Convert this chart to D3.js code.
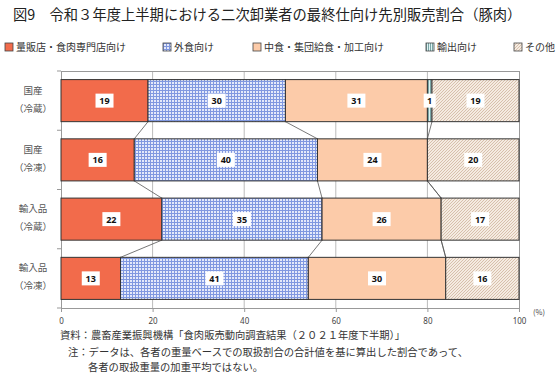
<!DOCTYPE html>
<html><head><meta charset="utf-8">
<script src="https://cdn.jsdelivr.net/npm/d3@7"></script>
<style>
body{margin:0;background:#fff;}
svg{display:block;font-family:"Noto Sans CJK JP","Noto Sans",sans-serif;}
</style></head><body>
<svg id="c" width="558" height="383"></svg>
<script>
const categories = [["国産","（冷蔵）"],["国産","（冷凍）"],["輸入品","（冷蔵）"],["輸入品","（冷凍）"]];
const seriesNames = ["量販店・食肉専門店向け","外食向け","中食・集団給食・加工向け","輸出向け","その他"];
const massRetail = [19,16,22,13];
const foodService = [30,40,35,41];
const readyMeal = [31,24,26,30];
const exportVals = [1,0,0,0];
const other = [19,20,17,16];
const xTicks = [0,20,40,60,80,100];

const svg = d3.select("#c");
const defs = svg.append("defs");
// patterns
const pb = defs.append("pattern").attr("id","pBlue").attr("patternUnits","userSpaceOnUse").attr("width",3).attr("height",3);
pb.append("rect").attr("width",3).attr("height",3).attr("fill","#e4e9fa");
pb.append("rect").attr("width",3).attr("height",1).attr("fill","#8098e0");
pb.append("rect").attr("width",1).attr("height",3).attr("fill","#8098e0");
const pc = defs.append("pattern").attr("id","pCyan").attr("patternUnits","userSpaceOnUse").attr("width",2).attr("height",2);
pc.append("rect").attr("width",2).attr("height",2).attr("fill","#dff3f3");
pc.append("rect").attr("width",1).attr("height",2).attr("fill","#7aa6a6");
const po = defs.append("pattern").attr("id","pOther").attr("patternUnits","userSpaceOnUse").attr("width",3).attr("height",3);
po.append("rect").attr("width",3).attr("height",3).attr("fill","#f5ebe1");
po.append("path").attr("d","M0,3 L3,0 M-1,1 L1,-1 M2,4 L4,2").attr("stroke","#d4bba6").attr("stroke-width",0.9);

const fills = ["#f26b4b","url(#pBlue)","#fccba9","url(#pCyan)","url(#pOther)"];
const legendFills = ["#f26b4b","url(#pBlue)","#fccba9","url(#pCyan)","url(#pOther)"];

// title
svg.append("text").attr("x",13).attr("y",20).attr("font-size",14.3).attr("fill","#222")
  .text("図9　令和３年度上半期における二次卸業者の最終仕向け先別販売割合（豚肉）");

// legend
const legX = [5,163,253,426,514];
seriesNames.forEach((n,i)=>{
  const g = svg.append("g").attr("transform",`translate(${legX[i]},43)`);
  g.append("rect").attr("x",0).attr("y",0).attr("width",8).attr("height",8).attr("fill",legendFills[i]).attr("stroke","#444").attr("stroke-width",0.8);
  g.append("text").attr("x",11).attr("y",8).attr("font-size",10).attr("fill","#333").text(n);
});

const L=61, R=519, T=71, B=308;
const x = d3.scaleLinear().domain([0,100]).range([L,R]);
const y = d3.scaleBand().domain(d3.range(categories.length)).range([T,B]).paddingInner(0.29).paddingOuter(0.145);

// gridlines
svg.append("g").selectAll("line").data(xTicks.filter(t=>t>0&&t<100)).join("line")
  .attr("x1",d=>x(d)).attr("x2",d=>x(d)).attr("y1",T).attr("y2",B).attr("stroke","#bbb").attr("stroke-width",1);
// plot border top & right
svg.append("line").attr("x1",L).attr("x2",R).attr("y1",T+0.5).attr("y2",T+0.5).attr("stroke","#999");
svg.append("line").attr("x1",R+0.5).attr("x2",R+0.5).attr("y1",T).attr("y2",B).attr("stroke","#999");

// axes
const xAxis = d3.axisBottom(x).tickValues(xTicks).tickSize(4).tickSizeOuter(0);
const gx = svg.append("g").attr("transform",`translate(0,${B})`).call(xAxis);
gx.select(".domain").attr("stroke","#999");
gx.selectAll(".tick line").attr("stroke","#999");
gx.selectAll("text").attr("font-size",8).attr("fill","#444").attr("dy","1.1em").attr("font-family","Noto Sans, sans-serif");
// left axis
svg.append("line").attr("x1",L+0.5).attr("x2",L+0.5).attr("y1",T).attr("y2",B).attr("stroke","#999");
const bounds = d3.range(categories.length+1).map(i=>T + i*(B-T)/categories.length);
svg.append("g").selectAll("line").data(bounds).join("line")
  .attr("x1",L-4).attr("x2",L).attr("y1",d=>d).attr("y2",d=>d).attr("stroke","#999");

// category labels
categories.forEach((c,i)=>{
  const cy = y(i)+y.bandwidth()/2;
  svg.append("text").attr("x",33).attr("y",cy-7).attr("text-anchor","middle").attr("font-size",9.5).attr("fill","#555").text(c[0]);
  svg.append("text").attr("x",33).attr("y",cy+11).attr("text-anchor","middle").attr("font-size",9.5).attr("fill","#555").text(c[1]);
});

const seriesData = [massRetail,foodService,readyMeal,exportVals,other];
const rows = categories.map((c,i)=>{
  let acc=0;
  return seriesData.map((s,k)=>{const x0=acc; acc+=s[i]; return {k,i,x0,x1:acc,v:s[i]};});
});

// series lines
for(let i=0;i<rows.length-1;i++){
  for(let k=0;k<seriesData.length-1;k++){
    svg.append("line").attr("x1",x(rows[i][k].x1)).attr("y1",y(i)+y.bandwidth())
      .attr("x2",x(rows[i+1][k].x1)).attr("y2",y(i+1)).attr("stroke","#555").attr("stroke-width",0.8);
  }
}

// bars
rows.forEach(r=>{
  r.forEach(s=>{
    if(s.v<=0) return;
    svg.append("rect").attr("x",x(s.x0)).attr("y",y(s.i)).attr("width",x(s.x1)-x(s.x0)).attr("height",y.bandwidth())
      .attr("fill",fills[s.k]).attr("stroke","#333").attr("stroke-width",1);
  });
});
// labels
rows.forEach(r=>{
  r.forEach(s=>{
    if(s.v<=0) return;
    const cx=(x(s.x0)+x(s.x1))/2, cy=y(s.i)+y.bandwidth()/2;
    const txt=String(s.v);
    const w = txt.length*6+6;
    svg.append("rect").attr("x",cx-w/2).attr("y",cy-7).attr("width",w).attr("height",14).attr("fill","#fff");
    svg.append("text").attr("x",cx).attr("y",cy+3.5).attr("text-anchor","middle").attr("font-size",9).attr("font-weight","bold")
      .attr("fill","#111").attr("font-family","Noto Sans, sans-serif").text(txt);
  });
});

svg.append("text").attr("x",533).attr("y",315).attr("font-size",7.5).attr("fill","#444").text("(%)");

// footnotes
const fs=10.3;
svg.append("text").attr("x",60).attr("y",339).attr("font-size",fs).attr("fill","#333").text("資料：農畜産業振興機構「食肉販売動向調査結果（２０２１年度下半期）」");
svg.append("text").attr("x",68).attr("y",356).attr("font-size",fs).attr("fill","#333").text("注：データは、各者の重量ベースでの取扱割合の合計値を基に算出した割合であって、");
svg.append("text").attr("x",88).attr("y",371).attr("font-size",fs).attr("fill","#333").text("各者の取扱重量の加重平均ではない。");
</script></body></html>
